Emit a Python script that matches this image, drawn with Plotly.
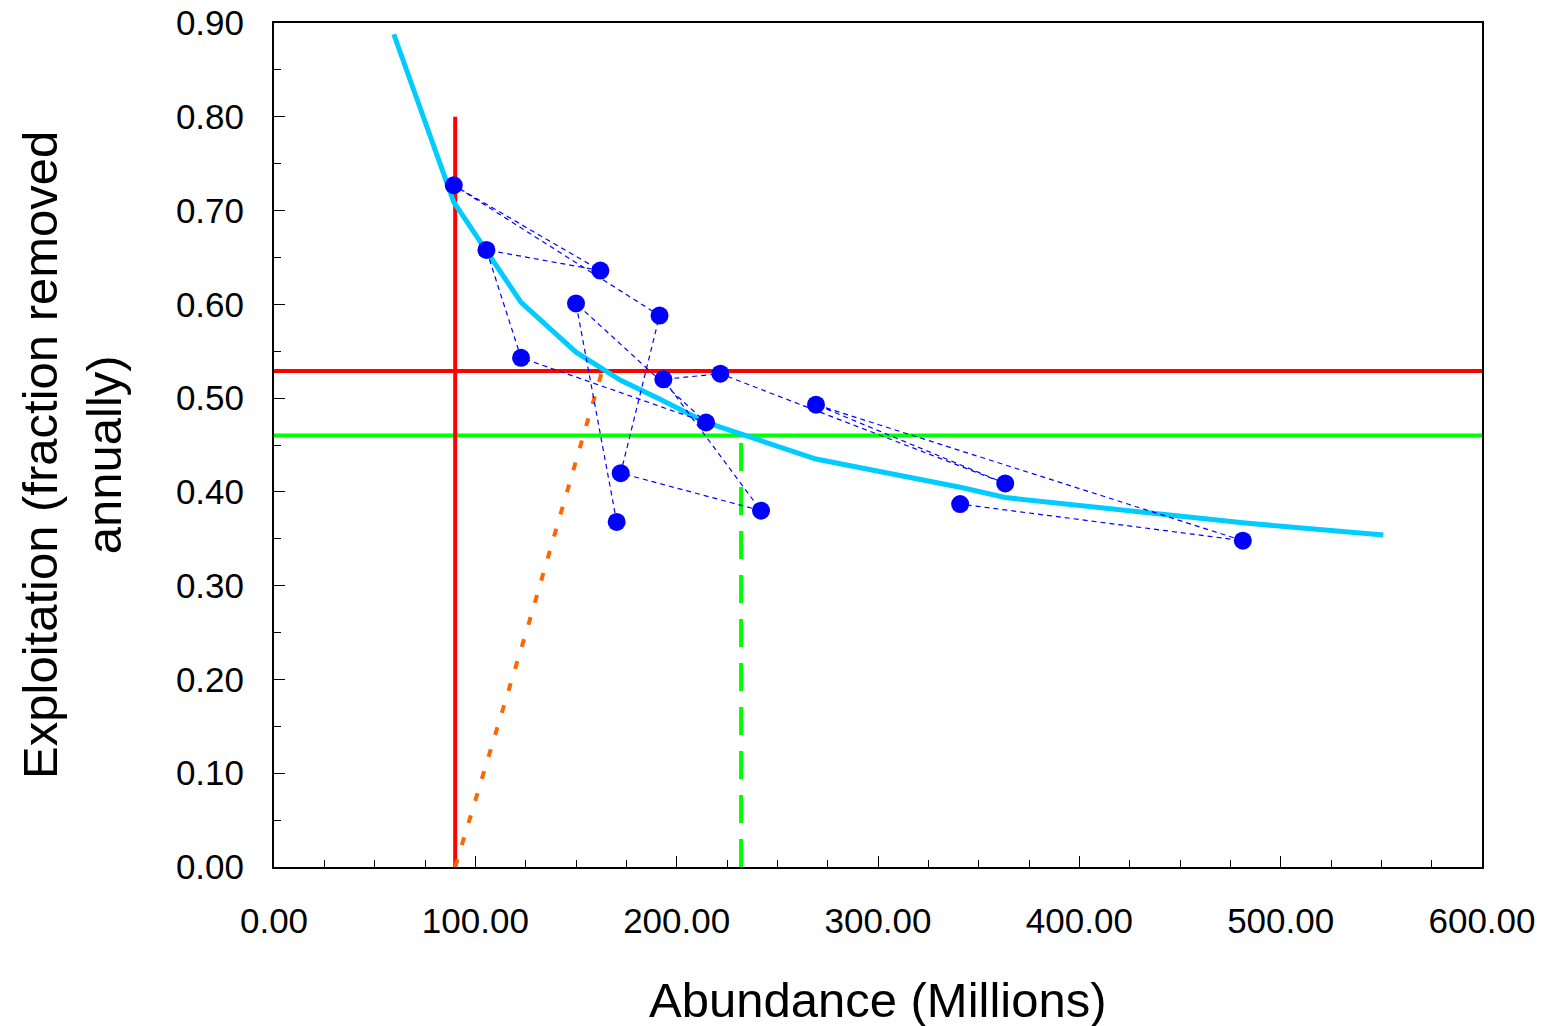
import plotly.graph_objects as go

# Observed annual points (in time order, connected by dashed line)
abundance = [170.2, 150.0, 214.6, 122.7, 105.5, 162.1, 89.3, 191.5,
             172.2, 241.9, 193.4, 221.7, 363.2, 269.2, 481.2, 340.8]
exploitation = [0.368, 0.601, 0.474, 0.543, 0.658, 0.636, 0.727, 0.588,
                0.420, 0.380, 0.520, 0.526, 0.409, 0.493, 0.348, 0.387]

# Fitted curve
curve_x = [59.5, 89.3, 105.5, 122.7, 150.0, 162.1, 170.2, 172.2, 191.5, 193.4,
           214.6, 221.7, 241.9, 269.2, 340.8, 363.2, 481.2, 551.0]
curve_y = [0.888, 0.709, 0.657, 0.602, 0.549, 0.532, 0.521, 0.519, 0.499, 0.497,
           0.474, 0.469, 0.455, 0.435, 0.405, 0.394, 0.367, 0.354]

# Replacement (orange dotted) line
repl_x = [90.0, 94.2, 125.9, 163.0]
repl_y = [0.0, 0.030, 0.255, 0.529]

# Reference levels
red_x = 90.0
red_top = 0.80
red_y = 0.529
green_y = 0.46
green_x = 232.0

x_ticks = [0, 100, 200, 300, 400, 500, 600]
x_tick_text = ["0.00", "100.00", "200.00", "300.00", "400.00", "500.00", "600.00"]
y_ticks = [0.0, 0.1, 0.2, 0.3, 0.4, 0.5, 0.6, 0.7, 0.8, 0.9]
y_tick_text = ["0.00", "0.10", "0.20", "0.30", "0.40", "0.50", "0.60", "0.70", "0.80", "0.90"]

fig = go.Figure()

fig.add_trace(go.Scatter(x=[0, 600], y=[red_y, red_y], mode="lines",
                         line=dict(color="#FF0000", width=4), showlegend=False))
fig.add_trace(go.Scatter(x=[0, 600], y=[green_y, green_y], mode="lines",
                         line=dict(color="#00FF00", width=4), showlegend=False))
fig.add_trace(go.Scatter(x=[red_x, red_x], y=[0, red_top], mode="lines",
                         line=dict(color="#FF0000", width=4), showlegend=False))
fig.add_trace(go.Scatter(x=[green_x, green_x], y=[0, green_y], mode="lines",
                         line=dict(color="#00FF00", width=4, dash="28px,16px"), showlegend=False))
fig.add_trace(go.Scatter(x=repl_x, y=repl_y, mode="lines",
                         line=dict(color="#FF6600", width=4, dash="8px,15px"), showlegend=False))
fig.add_trace(go.Scatter(x=curve_x, y=curve_y, mode="lines",
                         line=dict(color="#00CCFF", width=5), showlegend=False))
fig.add_trace(go.Scatter(x=abundance, y=exploitation, mode="lines+markers",
                         line=dict(color="#0000FF", width=1.2, dash="5px,4px"),
                         marker=dict(color="#0000FF", size=18),
                         showlegend=False))

font_family = "Liberation Sans, Arial, sans-serif"

fig.update_xaxes(range=[0, 600], tickvals=x_ticks, ticktext=x_tick_text,
                 ticks="inside", ticklen=11, tickwidth=1, tickcolor="black",
                 minor=dict(dtick=25, ticks="inside", ticklen=7, tickcolor="black", tickwidth=1),
                 showline=True, linecolor="black", linewidth=2, mirror=True,
                 showgrid=False, zeroline=False, ticklabelstandoff=22,
                 ticklabeloverflow="allow",
                 tickfont=dict(size=35, color="black", family=font_family))
fig.update_yaxes(range=[0, 0.9], tickvals=y_ticks, ticktext=y_tick_text,
                 ticks="inside", ticklen=11, tickwidth=1, tickcolor="black",
                 minor=dict(dtick=0.05, ticks="inside", ticklen=7, tickcolor="black", tickwidth=1),
                 showline=True, linecolor="black", linewidth=2, mirror=True,
                 showgrid=False, zeroline=False, ticklabelstandoff=21,
                 ticklabeloverflow="allow",
                 tickfont=dict(size=35, color="black", family=font_family))

fig.add_annotation(text="Abundance (Millions)", xref="paper", yref="paper",
                   x=0.5, y=-0.158, xanchor="center", yanchor="middle", showarrow=False,
                   font=dict(size=49, color="black", family=font_family))
fig.add_annotation(text="Exploitation (fraction removed<br>annually)", xref="paper", yref="paper",
                   x=-0.1667, y=0.4878, xanchor="center", yanchor="middle", showarrow=False,
                   textangle=-90,
                   font=dict(size=49, color="black", family=font_family))

# page body adds an 8px offset; margins compensate so the plot area lands where the reference has it
fig.update_layout(width=1547, height=1026, plot_bgcolor="white", paper_bgcolor="white",
                  margin=dict(l=265.5, r=73, t=14.7, b=167.3, autoexpand=False),
                  showlegend=False)

fig.write_html("out.html")
